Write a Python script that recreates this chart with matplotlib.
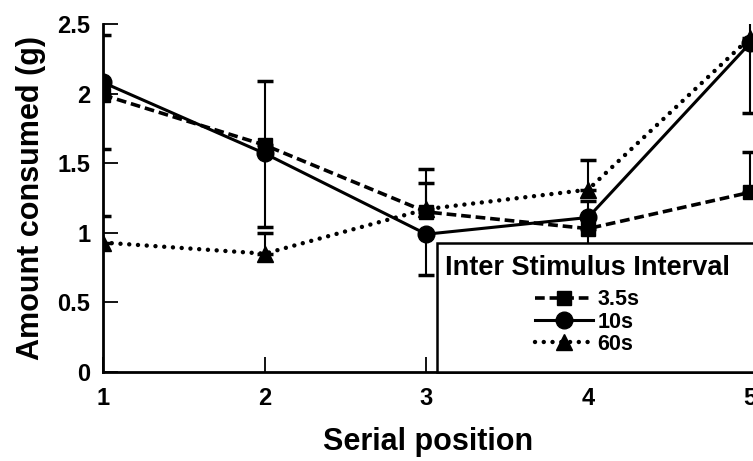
import matplotlib
matplotlib.use('Agg')
import matplotlib.pyplot as plt
import matplotlib.patches as mpatches
from matplotlib.lines import Line2D
import numpy as np

# Serial position data
positions = [1, 2, 3, 4, 5]

isi_35 = [1.99, 1.63, 1.15, 1.03, 1.29]
isi_35_err = [0.43, 0.46, 0.31, 0.20, 0.29]   # drawn upward

isi_10 = [2.08, 1.57, 0.99, 1.11, 2.36]
isi_10_err = [0.48, 0.53, 0.29, 0.25, 0.50]   # drawn downward

isi_60 = [0.93, 0.85, 1.17, 1.31, 2.40]
isi_60_err = [0.19, 0.15, 0.19, 0.21, 0.17]   # drawn upward

series_labels = ['3.5s', '10s', '60s']
y_ticks = [0, 0.5, 1, 1.5, 2, 2.5]
y_ticklabels = ['0', '0.5', '1', '1.5', '2', '2.5']

plt.rcParams['font.family'] = ['Liberation Sans', 'DejaVu Sans']
plt.rcParams['font.weight'] = 'bold'
plt.rcParams['lines.scale_dashes'] = False

fig = plt.figure(figsize=(7.53, 4.61), dpi=100)
ax = fig.add_axes([103 / 753, 1 - 372 / 461, 650 / 753, 348 / 461])

dash_style = (0, (7, 3.5))
dot_style = (0, (0.01, 6.3))

zero = np.zeros(len(positions))

# 3.5s - dashed with squares
ax.errorbar(positions, isi_35, yerr=[zero, isi_35_err], fmt='none',
            ecolor='black', elinewidth=1.5, capsize=6, capthick=2.5, zorder=2)
ax.plot(positions, isi_35, color='black', lw=2.6, linestyle=dash_style,
        marker='s', markersize=10, zorder=3)

# 10s - solid with circles
ax.errorbar(positions, isi_10, yerr=[isi_10_err, zero], fmt='none',
            ecolor='black', elinewidth=1.5, capsize=6, capthick=2.5, zorder=2)
ax.plot(positions, isi_10, color='black', lw=2.2, linestyle='-',
        marker='o', markersize=12, zorder=3)

# 60s - dotted with triangles
ax.errorbar(positions, isi_60, yerr=[zero, isi_60_err], fmt='none',
            ecolor='black', elinewidth=1.5, capsize=6, capthick=2.5, zorder=2)
ax.plot(positions, isi_60, color='black', lw=3.2, linestyle=dot_style,
        dash_capstyle='round', marker='^', markersize=12, zorder=3)

ax.set_xlim(1, 5.02)
ax.set_ylim(0, 2.5)
ax.set_xticks(positions)
ax.set_xticklabels([str(p) for p in positions])
ax.set_yticks(y_ticks)
ax.set_yticklabels(y_ticklabels)

for side in ['top', 'right']:
    ax.spines[side].set_visible(False)
for side in ['left', 'bottom']:
    ax.spines[side].set_linewidth(2)

ax.tick_params(axis='both', direction='in', length=11, width=1.3, labelsize=17)
ax.tick_params(axis='y', pad=9)
ax.tick_params(axis='x', pad=11)

ax.set_xlabel('Serial position', fontsize=22, fontweight='bold', labelpad=12)
ax.set_ylabel('Amount consumed (g)', fontsize=22, fontweight='bold', labelpad=8)

# legend box sitting on the x axis
box = mpatches.Rectangle((0.514, 0.0), 0.55, 0.371, transform=ax.transAxes,
                         facecolor='white', edgecolor='black', linewidth=1.8,
                         zorder=5, clip_on=False)
ax.add_patch(box)

handles = [
    Line2D([], [], color='black', lw=2.6, linestyle=dash_style, marker='s', markersize=10),
    Line2D([], [], color='black', lw=2.2, linestyle='-', marker='o', markersize=12),
    Line2D([], [], color='black', lw=3.2, linestyle=dot_style, dash_capstyle='round',
           marker='^', markersize=12),
]
leg = ax.legend(handles, series_labels, title='Inter Stimulus Interval',
                loc='center', bbox_to_anchor=(0.745, 0.193), frameon=False,
                prop={'size': 15.5, 'weight': 'bold'}, handlelength=2.7,
                handletextpad=0.2, labelspacing=0.05, alignment='center')
leg.get_title().set_fontsize(19.5)
leg.get_title().set_fontweight('bold')
leg._legend_box.sep = 6
leg.set_zorder(6)

fig.savefig('out.png', dpi=100)
